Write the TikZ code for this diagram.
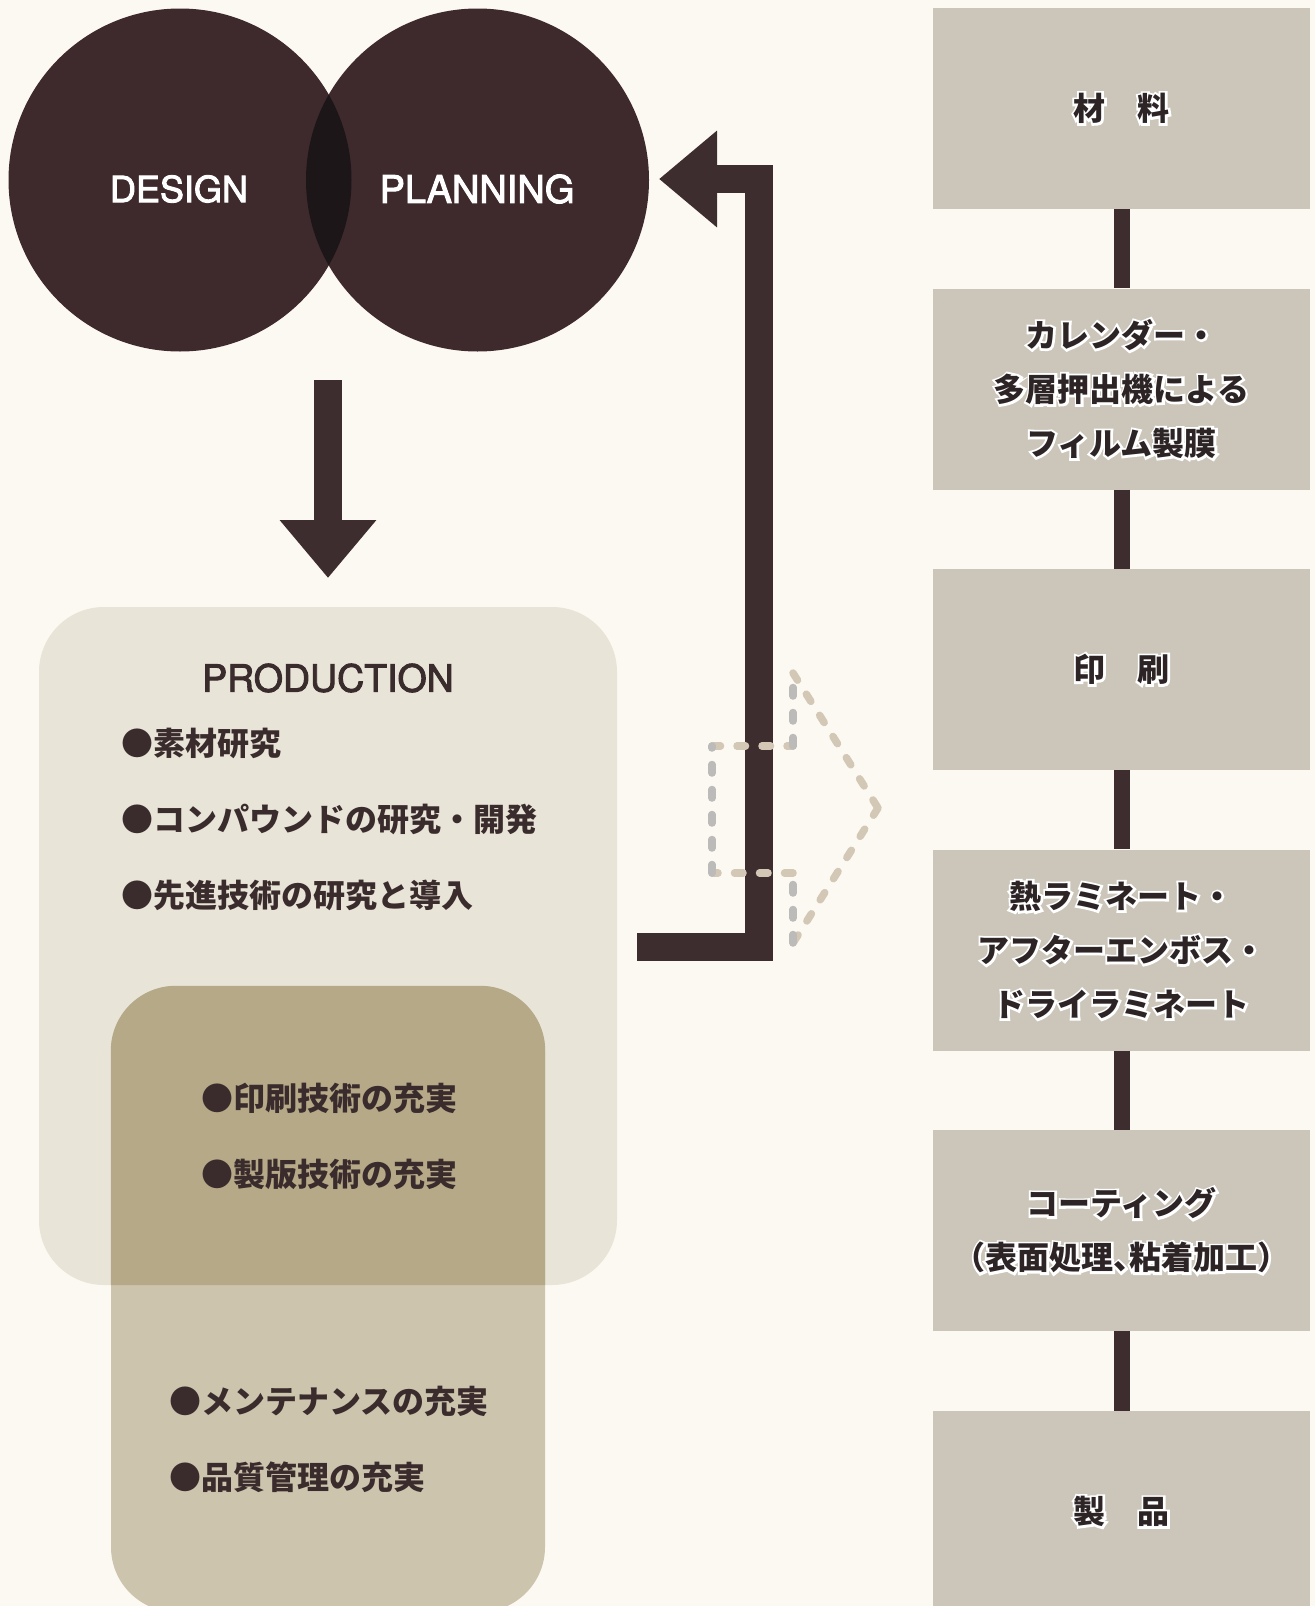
\documentclass[tikz,border=0pt]{standalone}
\usepackage{fontspec}
\newfontfamily\jp{Noto Sans CJK JP}
\newfontfamily\jphalo{Noto Sans CJK JP}[FakeBold=14]
\newfontfamily\heros{TeX Gyre Heros}[FakeBold=2.5]
\usetikzlibrary{arrows.meta}
\definecolor{bg}{HTML}{FCF9F2}
\definecolor{circ}{HTML}{3E2A2C}
\definecolor{lens}{HTML}{1D1619}
\definecolor{arr}{HTML}{3E2D2F}
\definecolor{prodA}{HTML}{E8E4D7}
\definecolor{prodB}{HTML}{CCC4AD}
\definecolor{prodAB}{HTML}{B6A988}
\definecolor{stepfill}{HTML}{CCC6BA}
\definecolor{txt}{HTML}{2D2426}
\definecolor{ltxt}{HTML}{3A2B2C}
\definecolor{dashA}{HTML}{D3C7B6}
\definecolor{dashB}{HTML}{BDBBBA}
\newcommand\halo[1]{\leavevmode\makebox[0pt][l]{\jphalo\bfseries\color{white}#1}#1}
\newcommand\haloh[1]{\leavevmode\makebox[0pt][l]{\jphalo\bfseries\addfontfeature{RawFeature=+halt}\color{white}#1}{\addfontfeature{RawFeature=+halt}#1}}
\tikzset{
  circnode/.style={circle, fill=circ, minimum size=343pt, inner sep=0pt},
  circtext/.style={text=white, inner sep=0pt},
  blockarrow/.style={draw=arr, line width=28pt, line join=miter, -{Triangle[length=58pt,width=93pt]}},
  prodbox/.style={rounded corners=65pt, inner sep=0pt},
  bullettext/.style={anchor=west, text=ltxt, inner sep=0pt, font=\jp\bfseries\fontsize{32}{36}\selectfont},
  stepbox/.style={fill=stepfill, minimum width=377pt, minimum height=201pt, inner sep=0pt, align=center, text=txt, font=\jp\bfseries\fontsize{32}{54}\selectfont},
  stepconn/.style={draw=arr, line width=16pt},
  dashseg/.style={line width=7.5pt, line cap=round, dash pattern=on 8.5pt off 16.5pt},
}
\begin{document}
\begin{tikzpicture}[x=1pt, y=-1pt]
\fill[bg] (0,0) rectangle (1315,1606);
\useasboundingbox (0,0) rectangle (1315,1606);

% circles
\node[circnode] (design) at (180,180) {};
\node[circnode] (planning) at (477.5,180) {};
\begin{scope}
  \clip (design.center) circle (171.5pt);
  \fill[lens] (planning.center) circle (171.5pt);
\end{scope}
\node[circtext, font=\heros\fontsize{36}{40}\selectfont] (designlabel) at (179,189) {DESIGN};
\node[circtext, font=\heros\fontsize{38}{42}\selectfont] (planninglabel) at (477,189) {PLANNING};

% down arrow
\coordinate (dtop) at (328,380);
\coordinate (dtip) at (328,578);
\draw[blockarrow] (dtop) -- (dtip);

% production boxes
\node[prodbox, fill=prodA, minimum width=578pt, minimum height=678pt] (prod) at (328,946) {};
\node[prodbox, fill=prodB, minimum width=434pt, minimum height=626pt] (quality) at (328,1299) {};
\begin{scope}
  \clip[rounded corners=65pt] (prod.north west) rectangle (prod.south east);
  \fill[prodAB, rounded corners=65pt] (quality.north west) rectangle (quality.south east);
\end{scope}

\node[text=ltxt, inner sep=0pt, font=\heros\fontsize{37.5}{40}\selectfont] (prodtitle) at (328,678) {PRODUCTION};
\node[bullettext] (p1) at (121,743) {●素材研究};
\node[bullettext] (p2) at (121,819) {●コンパウンドの研究・開発};
\node[bullettext] (p3) at (121,895) {●先進技術の研究と導入};
\node[bullettext] (p4) at (201,1098) {●印刷技術の充実};
\node[bullettext] (p5) at (201,1174) {●製版技術の充実};
\node[bullettext] (p6) at (169,1401) {●メンテナンスの充実};
\node[bullettext] (p7) at (169,1477) {●品質管理の充実};

% feedback arrow
\coordinate (fbstart) at (637,947);
\coordinate (fbc1) at (759,947);
\coordinate (fbc2) at (759,179);
\coordinate (fbtip) at (659,179);
\draw[blockarrow] (fbstart) -- (fbc1) -- (fbc2) -- (fbtip);

% dashed outline arrow
\coordinate (da1) at (712,746);
\coordinate (da2) at (793,746);
\coordinate (da3) at (793,673);
\coordinate (da4) at (878,808);
\coordinate (da5) at (793,943);
\coordinate (da6) at (793,873);
\coordinate (da7) at (712,873);
\draw[dashseg, dashA] (da1) -- (da2);
\draw[dashseg, dashB] (da2) -- (da3);
\draw[dashseg, dashA] (da3) -- (da4);
\draw[dashseg, dashA] (da4) -- (da5);
\draw[dashseg, dashB] (da5) -- (da6);
\draw[dashseg, dashA] (da6) -- (da7);
\draw[dashseg, dashB] (da7) -- (da1);

% process column
\node[stepbox] (s1) at (1121.5,108.5) {\halo{材　料}};
\node[stepbox] (s2) at (1121.5,389) {\halo{カレンダー・}\\\halo{多層押出機による}\\\halo{フィルム製膜}};
\node[stepbox] (s3) at (1121.5,669.5) {\halo{印　刷}};
\node[stepbox] (s4) at (1121.5,950) {\halo{熱ラミネート・}\\\halo{アフターエンボス・}\\\halo{ドライラミネート}};
\node[stepbox] (s5) at (1121.5,1230.5) {\halo{コーティング}\\\haloh{（表面処理、粘着加工）}};
\node[stepbox] (s6) at (1121.5,1511.5) {\halo{製　品}};
\draw[stepconn] (s1.south) -- (s2.north);
\draw[stepconn] (s2.south) -- (s3.north);
\draw[stepconn] (s3.south) -- (s4.north);
\draw[stepconn] (s4.south) -- (s5.north);
\draw[stepconn] (s5.south) -- (s6.north);
\end{tikzpicture}
\end{document}
